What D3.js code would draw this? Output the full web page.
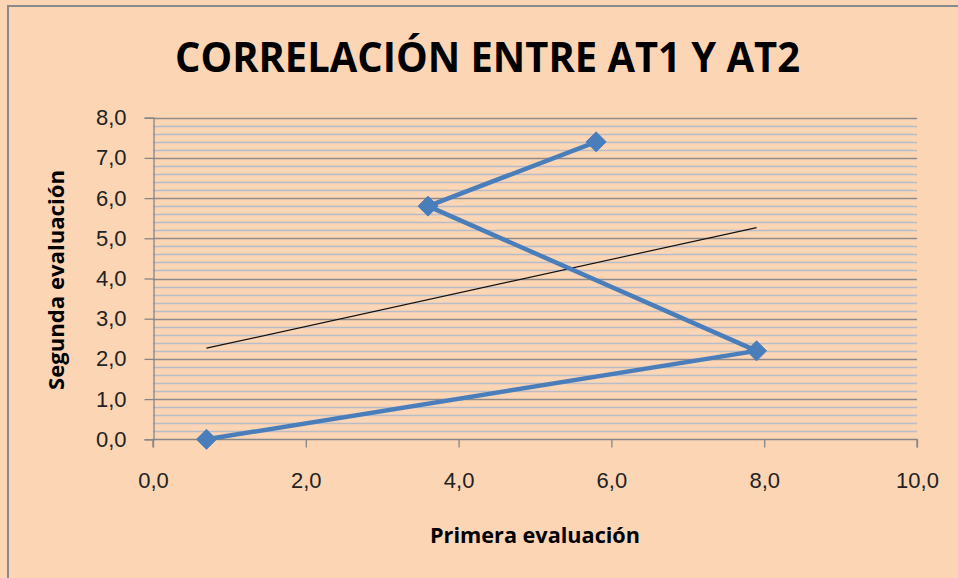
<!DOCTYPE html>
<html>
<head>
<meta charset="utf-8">
<script src="https://cdn.jsdelivr.net/npm/d3@7"></script>
<style>
  html, body { margin: 0; padding: 0; background: #fcd5b5; }
  svg { display: block; }
</style>
</head>
<body>
<svg id="chart" width="958" height="578"></svg>
<script>
// values
var primera = [0.7, 7.9, 3.6, 5.8]
var segunda = [0.0, 2.2, 5.8, 7.4]
var xTicks = [0, 2, 4, 6, 8, 10]
var yTicks = [0, 1, 2, 3, 4, 5, 6, 7, 8]
var title = 'CORRELACIÓN ENTRE AT1 Y AT2'
var xTitle = 'Primera evaluación'
var yTitle = 'Segunda evaluación'

var svg = d3.select('#chart')
var fmt = function (d) { return d.toFixed(1).replace('.', ',') }

var x = d3.scaleLinear().domain([0, 10]).range([153, 917])
var y = d3.scaleLinear().domain([0, 8]).range([439.3, 117.7])

// chart frame
svg.append('rect')
  .attr('x', 8).attr('y', 6).attr('width', 970).attr('height', 600)
  .attr('fill', '#fcd5b5').attr('stroke', '#8a8a8a').attr('stroke-width', 2)

// minor gridlines every 0,2
var minor = d3.range(0, 40).map(function (i) { return i * 0.2 }).filter(function (v, i) { return i % 5 !== 0 })
svg.append('g').selectAll('line').data(minor).join('line')
  .attr('x1', x(0)).attr('x2', x(10))
  .attr('y1', function (d) { return Math.round(y(d)) + 0.5 })
  .attr('y2', function (d) { return Math.round(y(d)) + 0.5 })
  .attr('stroke', '#b7bcc6').attr('stroke-width', 1.3)

// major gridlines
svg.append('g').selectAll('line').data(yTicks.slice(1)).join('line')
  .attr('x1', x(0)).attr('x2', x(10))
  .attr('y1', function (d) { return Math.round(y(d)) + 0.5 })
  .attr('y2', function (d) { return Math.round(y(d)) + 0.5 })
  .attr('stroke', '#8c8c8c').attr('stroke-width', 1.3)

// axes
var axisFont = '"Liberation Sans", Arial, sans-serif'
var xAxis = svg.append('g')
  .attr('transform', 'translate(0,' + (Math.round(y(0)) + 0.5) + ')')
  .call(d3.axisBottom(x).tickValues(xTicks).tickFormat(fmt).tickSize(8).tickPadding(25))
var yAxis = svg.append('g')
  .attr('transform', 'translate(' + (Math.round(x(0)) + 0.5) + ',0)')
  .call(d3.axisLeft(y).tickValues(yTicks).tickFormat(fmt).tickSize(9).tickPadding(18))

;[xAxis, yAxis].forEach(function (a) {
  a.select('.domain').attr('stroke', '#868686').attr('stroke-width', 1.3)
  a.selectAll('.tick line').attr('stroke', '#868686').attr('stroke-width', 1.3)
  a.selectAll('.tick text')
    .attr('fill', '#222')
    .style('font-family', axisFont)
    .style('font-size', '22px')
})
xAxis.select('.domain').attr('d', 'M' + x(0) + ',8V0H' + x(10) + 'V8')

// linear trend line (least squares on the points)
var mx = d3.mean(primera)
var my = d3.mean(segunda)
var sxy = d3.sum(primera, function (v, i) { return (v - mx) * (segunda[i] - my) })
var sxx = d3.sum(primera, function (v) { return (v - mx) * (v - mx) })
var slope = sxy / sxx
var icpt = my - slope * mx
var x0 = d3.min(primera)
var x1 = d3.max(primera)
svg.append('line')
  .attr('x1', x(x0)).attr('y1', y(icpt + slope * x0))
  .attr('x2', x(x1)).attr('y2', y(icpt + slope * x1))
  .attr('stroke', '#111').attr('stroke-width', 1.2)

// series line and markers
var pts = primera.map(function (v, i) { return [v, segunda[i]] })
svg.append('path')
  .datum(pts)
  .attr('fill', 'none')
  .attr('stroke', '#4a7ebb')
  .attr('stroke-width', 4.5)
  .attr('stroke-linejoin', 'round')
  .attr('d', d3.line().x(function (d) { return x(d[0]) }).y(function (d) { return y(d[1]) }))

svg.append('g').selectAll('path').data(pts).join('path')
  .attr('transform', function (d) { return 'translate(' + x(d[0]) + ',' + y(d[1]) + ')' })
  .attr('d', 'M0,-10L10,0L0,10L-10,0Z')
  .attr('fill', '#4a7ebb')
  .attr('stroke', '#4a7ebb')
  .attr('stroke-width', 1)

// titles
svg.append('text')
  .attr('x', 175).attr('y', 72)
  .attr('textLength', 625).attr('lengthAdjust', 'spacingAndGlyphs')
  .style('font-family', '"Open Sans", sans-serif')
  .style('font-weight', 700)
  .style('font-size', '41px')
  .attr('fill', '#000')
  .text(title)

svg.append('text')
  .attr('x', 430).attr('y', 543)
  .attr('textLength', 210).attr('lengthAdjust', 'spacingAndGlyphs')
  .style('font-family', '"Open Sans", sans-serif')
  .style('font-weight', 700)
  .style('font-size', '22px')
  .attr('fill', '#000')
  .text(xTitle)

svg.append('text')
  .attr('transform', 'translate(64,390) rotate(-90)')
  .attr('textLength', 220).attr('lengthAdjust', 'spacingAndGlyphs')
  .style('font-family', '"Open Sans", sans-serif')
  .style('font-weight', 700)
  .style('font-size', '22px')
  .attr('fill', '#000')
  .text(yTitle)
</script>
</body>
</html>
